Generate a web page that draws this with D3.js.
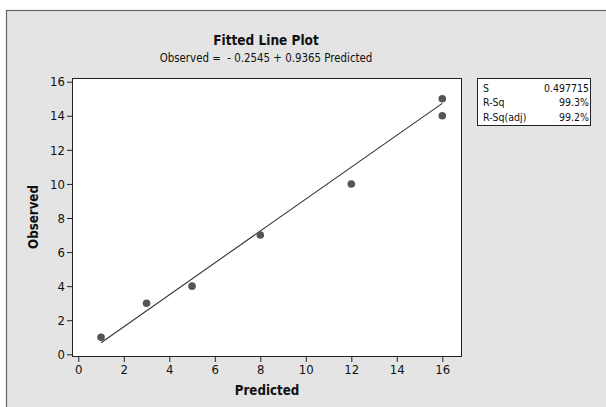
<!DOCTYPE html>
<html><head><meta charset="utf-8">
<script src="https://cdn.jsdelivr.net/npm/d3@7"></script>
<style>body{margin:0;background:#fff}svg{display:block;font-family:"DejaVu Sans Condensed","DejaVu Sans",sans-serif}text{white-space:pre}</style>
</head><body><svg id="c" width="606" height="407"></svg>
<script>
const predicted = [1, 3, 5, 8, 12, 16, 16];
const observed  = [1, 3, 4, 7, 10, 15, 14];
const intercept = -0.2545;
const slope = 0.9365;
const xTicks = [0, 2, 4, 6, 8, 10, 12, 14, 16];
const yTicks = [0, 2, 4, 6, 8, 10, 12, 14, 16];
const statLabels = ["S", "R-Sq", "R-Sq(adj)"];
const statValues = ["0.497715", "99.3%", "99.2%"];
const titleText = "Fitted Line Plot";
const subtitleText = "Observed =  - 0.2545 + 0.9365 Predicted";
const FONT = "DejaVu Sans Condensed, DejaVu Sans, sans-serif";

const svg = d3.select("#c");
// outer panel
svg.append("rect").attr("x", 6.5).attr("y", 10.5).attr("width", 620).attr("height", 420)
  .attr("fill", "#e4e4e4").attr("stroke", "#666").attr("stroke-width", 1.2);

const P = {l: 72, t: 78, r: 462, b: 357};
svg.append("rect").attr("x", P.l + 0.5).attr("y", P.t + 0.5)
  .attr("width", P.r - P.l - 1).attr("height", P.b - P.t - 1)
  .attr("fill", "#fff").attr("stroke", "#222").attr("stroke-width", 1);

const x = d3.scaleLinear().domain([0, 16]).range([78.3, 442.3]);
const y = d3.scaleLinear().domain([0, 16]).range([354.3, 81.7]);

const xAxis = svg.append("g").attr("transform", `translate(0,${P.b})`)
  .call(d3.axisBottom(x).tickValues(xTicks).tickSize(5).tickPadding(3).tickSizeOuter(0));
xAxis.select(".domain").remove();
xAxis.selectAll("text").attr("font-size", 13).attr("fill", "#111").attr("font-family", FONT);
xAxis.selectAll("line").attr("stroke", "#222");

const yAxis = svg.append("g").attr("transform", `translate(${P.l},0)`)
  .call(d3.axisLeft(y).tickValues(yTicks).tickSize(5).tickPadding(2).tickSizeOuter(0));
yAxis.select(".domain").remove();
yAxis.selectAll("text").attr("font-size", 13).attr("fill", "#111").attr("font-family", FONT);
yAxis.selectAll("line").attr("stroke", "#222");

// fitted line
const xr = d3.extent(predicted);
svg.append("line")
  .attr("x1", x(xr[0])).attr("y1", y(intercept + slope * xr[0]))
  .attr("x2", x(xr[1])).attr("y2", y(intercept + slope * xr[1]))
  .attr("stroke", "#333").attr("stroke-width", 1.1);

// points
svg.append("g").selectAll("circle").data(predicted.map((p, i) => [p, observed[i]]))
  .join("circle").attr("cx", d => x(d[0])).attr("cy", d => y(d[1])).attr("r", 3.8)
  .attr("fill", "#555");

// titles
svg.append("text").attr("x", 266).attr("y", 45).attr("text-anchor", "middle")
  .attr("font-weight", "bold").attr("font-size", 13.5).attr("fill", "#111").text(titleText);
svg.append("text").attr("x", 266).attr("y", 62).attr("text-anchor", "middle")
  .attr("font-size", 11.4).attr("fill", "#111").text(subtitleText);

// axis labels
svg.append("text").attr("x", 267).attr("y", 395).attr("text-anchor", "middle")
  .attr("font-weight", "bold").attr("font-size", 13.2).attr("fill", "#111").text("Predicted");
svg.append("text").attr("transform", "translate(38,217) rotate(-90)").attr("text-anchor", "middle")
  .attr("font-weight", "bold").attr("font-size", 13.2).attr("fill", "#111").text("Observed");

// stats box
svg.append("rect").attr("x", 477.5).attr("y", 78.5).attr("width", 113).attr("height", 47)
  .attr("fill", "#fff").attr("stroke", "#222").attr("stroke-width", 1);
const rows = [92, 106, 120.5];
statLabels.forEach((s, i) => {
  svg.append("text").attr("x", 483).attr("y", rows[i]).attr("font-size", 10.5).attr("fill", "#111").text(s);
  svg.append("text").attr("x", 589).attr("y", rows[i]).attr("text-anchor", "end").attr("font-size", 10.5).attr("fill", "#111").text(statValues[i]);
});
</script></body></html>
